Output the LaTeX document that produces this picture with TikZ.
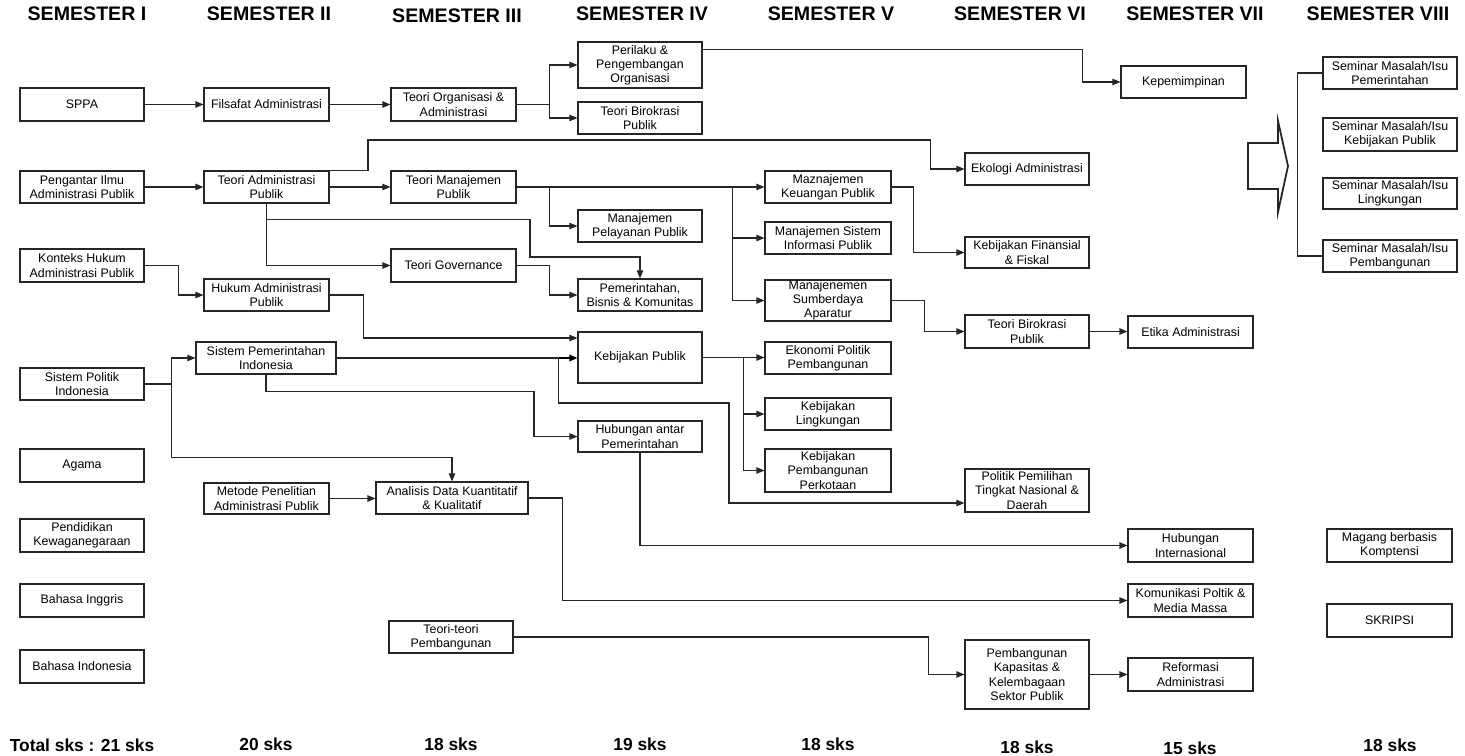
\documentclass[tikz,border=0pt]{standalone}
\usepackage{fontspec}
\setmainfont{Liberation Sans}
\usetikzlibrary{arrows.meta,calc}
\begin{document}
\begin{tikzpicture}[x=0.5pt,y=-0.5pt,
  box/.style={draw=black!85, line width=0.55pt, fill=white, inner sep=0pt,
    align=center, font=\fontsize{6.2}{7.1}\selectfont},
  wh/.style 2 args={minimum width=#1*0.5pt, minimum height=#2*0.5pt},
  hdr/.style={inner sep=0pt, font=\bfseries\fontsize{9.8}{11}\selectfont},
  sks/.style={inner sep=0pt, font=\bfseries\fontsize{8.7}{10}\selectfont},
  arr/.style={draw=black!85, line width=0.55pt, -{Triangle[length=4pt,width=3.2pt]}},
  thk/.style={draw=black, line width=0.95pt},
  plain/.style={draw=black!85, line width=0.55pt}]
\useasboundingbox (0,0) rectangle (1465,755);

% semester headings
\node[hdr] (h1) at (87,14) {SEMESTER I};
\node[hdr] (h2) at (269,14) {SEMESTER II};
\node[hdr] (h3) at (457,16) {SEMESTER III};
\node[hdr] (h4) at (642,14) {SEMESTER IV};
\node[hdr] (h5) at (831,14) {SEMESTER V};
\node[hdr] (h6) at (1020,14) {SEMESTER VI};
\node[hdr] (h7) at (1195,14) {SEMESTER VII};
\node[hdr] (h8) at (1378,14) {SEMESTER VIII};

% credit totals
\node[sks] (s1) at (82,745) {Total sks : 21 sks};
\node[sks] (s2) at (266,744) {20 sks};
\node[sks] (s3) at (451,744) {18 sks};
\node[sks] (s4) at (640,744) {19 sks};
\node[sks] (s5) at (828,744) {18 sks};
\node[sks] (s6) at (1027,747) {18 sks};
\node[sks] (s7) at (1190,748) {15 sks};
\node[sks] (s8) at (1390,745) {18 sks};

% semester I
\node[box,wh={124}{33}] (sppa) at (82,104.5) {SPPA};
\node[box,wh={124}{32}] (pengantar) at (82,187) {Pengantar Ilmu\\Administrasi Publik};
\node[box,wh={124}{33}] (konteks) at (82,265.5) {Konteks Hukum\\Administrasi Publik};
\node[box,wh={124}{32}] (sispol) at (82,384) {Sistem Politik\\Indonesia};
\node[box,wh={124}{33}] (agama) at (82,465.5) {Agama};
\node[box,wh={124}{33}] (pkn) at (82,535.5) {Pendidikan\\Kewaganegaraan};
\node[box,wh={124}{33}] (bing) at (82,600.5) {Bahasa Inggris};
\node[box,wh={124}{33}] (bind) at (82,666.5) {Bahasa Indonesia};

% semester II
\node[box,wh={125}{33}] (filsafat) at (266.5,104.5) {Filsafat Administrasi};
\node[box,wh={125}{32}] (tap) at (266.5,187) {Teori Administrasi\\Publik};
\node[box,wh={125}{32}] (hukum) at (266.5,295) {Hukum Administrasi\\Publik};
\node[box,wh={140}{32}] (sispem) at (266,358) {Sistem Pemerintahan\\Indonesia};
\node[box,wh={125}{31}] (metode) at (266.5,498.5) {Metode Penelitian\\Administrasi Publik};

% semester III
\node[box,wh={125}{33}] (org) at (453.5,104.5) {Teori Organisasi \&\\Administrasi};
\node[box,wh={125}{32}] (tmp) at (453.5,187) {Teori Manajemen\\Publik};
\node[box,wh={125}{33}] (gov) at (453.5,265.5) {Teori Governance};
\node[box,wh={152}{32}] (analisis) at (452,498) {Analisis Data Kuantitatif\\\& Kualitatif};
\node[box,wh={124}{32}] (teoriteori) at (451,637) {Teori-teori\\Pembangunan};

% semester IV
\node[box,wh={124}{46}] (perilaku) at (640,65) {Perilaku \&\\Pengembangan\\Organisasi};
\node[box,wh={124}{32}] (birok4) at (640,118) {Teori Birokrasi\\Publik};
\node[box,wh={124}{32}] (pelayanan) at (640,226) {Manajemen\\Pelayanan Publik};
\node[box,wh={124}{32}] (pbk) at (640,295) {Pemerintahan,\\Bisnis \& Komunitas};
\node[box,wh={124}{51}] (kp) at (640,357.5) {Kebijakan Publik};
\node[box,wh={124}{31}] (hap) at (640,436.5) {Hubungan antar\\Pemerintahan};

% semester V
\node[box,wh={126}{32}] (keuangan) at (828,187) {Maznajemen\\Keuangan Publik};
\node[box,wh={126}{32}] (sim) at (828,238) {Manajemen Sistem\\Informasi Publik};
\node[box,wh={126}{41}] (sdm) at (828,300.5) {Manajenemen\\Sumberdaya\\Aparatur};
\node[box,wh={126}{32}] (ekopol) at (828,358) {Ekonomi Politik\\Pembangunan};
\node[box,wh={126}{32}] (lingk) at (828,414) {Kebijakan\\Lingkungan};
\node[box,wh={126}{43}] (kota) at (828,470.5) {Kebijakan\\Pembangunan\\Perkotaan};

% semester VI
\node[box,wh={124}{32}] (ekologi) at (1027,169) {Ekologi Administrasi};
\node[box,wh={124}{31}] (finansial) at (1027,252.5) {Kebijakan Finansial\\\& Fiskal};
\node[box,wh={124}{33}] (birok6) at (1027,331.5) {Teori Birokrasi\\Publik};
\node[box,wh={124}{43}] (pemilihan) at (1027,490.5) {Politik Pemilihan\\Tingkat Nasional \&\\Daerah};
\node[box,wh={124}{69}] (kapasitas) at (1027,674.5) {Pembangunan\\Kapasitas \&\\Kelembagaan\\Sektor Publik};

% semester VII
\node[box,wh={125}{32}] (kepemimpinan) at (1183.5,82) {Kepemimpinan};
\node[box,wh={125}{32}] (etika) at (1190.5,332) {Etika Administrasi};
\node[box,wh={125}{33}] (hubint) at (1190.5,545.5) {Hubungan\\Internasional};
\node[box,wh={125}{33}] (komunikasi) at (1190.5,600.5) {Komunikasi Poltik \&\\Media Massa};
\node[box,wh={125}{33}] (reformasi) at (1190.5,674.5) {Reformasi\\Administrasi};

% semester VIII
\node[box,wh={134}{32}] (sem1) at (1390,73) {Seminar Masalah/Isu\\Pemerintahan};
\node[box,wh={134}{33}] (sem2) at (1390,134.5) {Seminar Masalah/Isu\\Kebijakan Publik};
\node[box,wh={134}{31}] (sem3) at (1390,193.5) {Seminar Masalah/Isu\\Lingkungan};
\node[box,wh={134}{32}] (sem4) at (1390,256) {Seminar Masalah/Isu\\Pembangunan};
\node[box,wh={125}{33}] (magang) at (1389.5,545.5) {Magang berbasis\\Komptensi};
\node[box,wh={125}{33}] (skripsi) at (1389.5,620.5) {SKRIPSI};

% prerequisite connectors
\draw[arr] (sppa) -- (filsafat);
\draw[arr] (filsafat) -- (org);
\draw[thk] (org.east) -- ++(33,0);
\draw[arr] (org.east) -- ++(33,0) |- (perilaku.west);
\draw[arr] (org.east) -- ++(33,0) |- (birok4.west);
\draw[arr] ([yshift=-4pt]perilaku.north east) -| ($(kepemimpinan.west)+(-38,0)$) -- (kepemimpinan.west);

\draw[arr] (pengantar) -- (tap);
\draw[arr] (tap) -- (tmp);
\draw[arr] (tap.north east) -| (368,140) -| ($(ekologi.west)+(-34,0)$) -- (ekologi.west);
\draw[arr] (tap.south) |- (gov.west);
\draw[arr] (tap.south) -- ++(0,16) -| (530,257) -| (pbk.north);

\draw[thk] (tmp.east) -- ++(216,0);
\draw[arr] (tmp.east) -- (keuangan.west);
\draw[arr] (tmp.east) -- ++(33,0) |- (pelayanan.west);
\draw[arr] (tmp.east) -- ++(216,0) |- (sim.west);
\draw[arr] (tmp.east) -- ++(216,0) |- (sdm.west);
\draw[arr] (keuangan.east) -- ++(22,0) |- (finansial.west);

\draw[arr] (konteks.east) -- ++(34,0) |- (hukum.west);
\draw[arr] (hukum.east) -- ++(34,0) |- ($(kp.west)+(0,-19.5)$);
\draw[arr] (gov.east) -- ++(33,0) |- (pbk.west);
\draw[arr] (sdm.east) -- ++(33,0) |- (birok6.west);
\draw[arr] (birok6.east) -- (birok6.east -| etika.west);

\draw[arr] (sispol.east) -- ++(27,0) |- (sispem.west);
\draw[arr] (sispol.east) -- ++(27,0) |- ($(analisis.north)+(0,-24)$) -- (analisis.north);
\draw[thk] (sispem.east) -- ++(222,0);
\draw[arr,line width=0.95pt,draw=black] (sispem.east) -- (sispem.east -| kp.west);
\draw[arr] (sispem.east) -- ++(222,0) |- (729,403) |- ($(pemilihan.west)+(0,12.5)$);
\draw[arr] (sispem.south) -- ++(0,17) -| (534,420) |- (hap.west);

\draw[thk] (kp.east) -- ++(41,0);
\draw[arr] (kp.east) -- (kp.east -| ekopol.west);
\draw[arr] (kp.east) -- ++(41,0) |- (lingk.west);
\draw[arr] (kp.east) -- ++(41,0) |- (kota.west);
\draw[arr] (hap.south) |- (hubint.west);

\draw[arr] (metode.east) -- (metode.east -| analisis.west);
\draw[arr] (analisis.east) -- ++(34,0) |- (komunikasi.west);
\draw[arr] (teoriteori.east) -- ++(415,0) |- (kapasitas.west);
\draw[arr] (kapasitas) -- (reformasi);

% seminar bracket and block arrow
\draw[plain] (sem1.west) -- ++(-25,0) |- (sem4.west);
\draw[line width=0.9pt, draw=black!85] (1248,143) -- (1278,143) -- (1278,121) -- (1288,166)
  -- (1278,212) -- (1278,189) -- (1248,189) -- cycle;
\end{tikzpicture}
\end{document}
